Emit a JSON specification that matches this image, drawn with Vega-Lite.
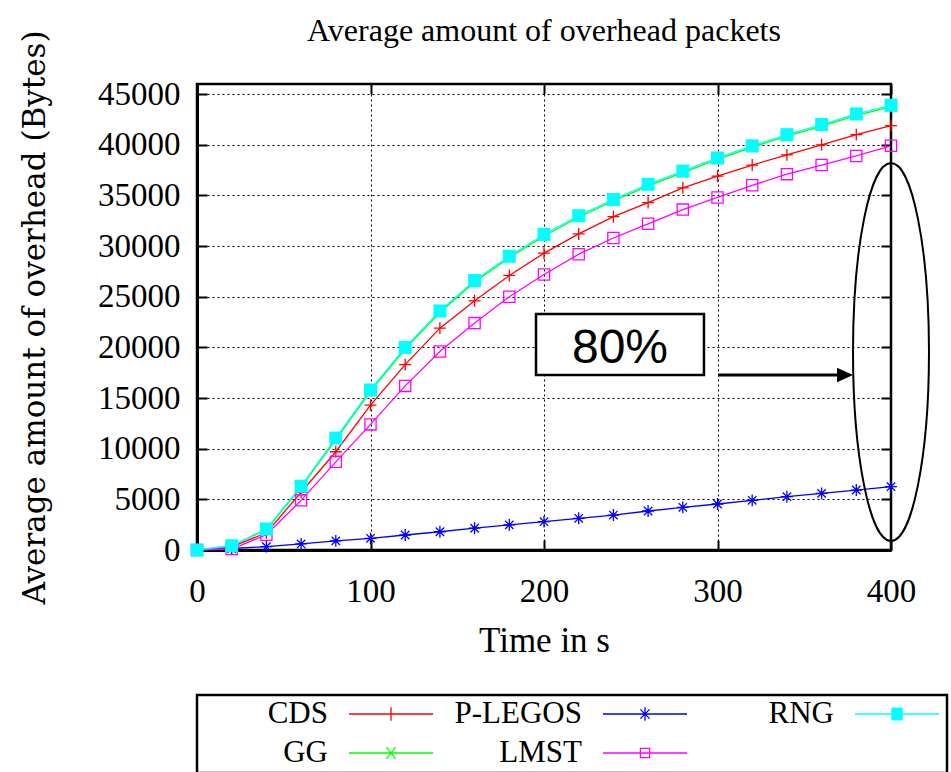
{
  "$schema": "https://vega.github.io/schema/vega-lite/v6.json",
  "autosize": "none",
  "width": 694,
  "height": 466,
  "padding": {"left": 197, "top": 84, "right": 60, "bottom": 222},
  "background": "white",
  "title": {"text": "Average amount of overhead packets", "font": "Liberation Serif", "fontSize": 32, "fontWeight": "normal", "color": "black", "anchor": "middle", "frame": "group", "baseline": "bottom", "offset": -50},
  "config": {
    "font": "Liberation Serif",
    "view": {"stroke": "black", "strokeWidth": 2.5}
  },
  "datasets": {
    "series": [
      {"series": "CDS", "t": 0, "v": 0}, {"series": "CDS", "t": 20, "v": 300}, {"series": "CDS", "t": 40, "v": 1700}, {"series": "CDS", "t": 60, "v": 5700}, {"series": "CDS", "t": 80, "v": 9700}, {"series": "CDS", "t": 100, "v": 14300}, {"series": "CDS", "t": 120, "v": 18300}, {"series": "CDS", "t": 140, "v": 21900}, {"series": "CDS", "t": 160, "v": 24600}, {"series": "CDS", "t": 180, "v": 27100}, {"series": "CDS", "t": 200, "v": 29300}, {"series": "CDS", "t": 220, "v": 31200}, {"series": "CDS", "t": 240, "v": 32900}, {"series": "CDS", "t": 260, "v": 34300}, {"series": "CDS", "t": 280, "v": 35750}, {"series": "CDS", "t": 300, "v": 36900}, {"series": "CDS", "t": 320, "v": 38000}, {"series": "CDS", "t": 340, "v": 39000}, {"series": "CDS", "t": 360, "v": 40000}, {"series": "CDS", "t": 380, "v": 41000}, {"series": "CDS", "t": 400, "v": 41900},
      {"series": "GG", "t": 0, "v": 0}, {"series": "GG", "t": 20, "v": 400}, {"series": "GG", "t": 40, "v": 2000}, {"series": "GG", "t": 60, "v": 6200}, {"series": "GG", "t": 80, "v": 10900}, {"series": "GG", "t": 100, "v": 15650}, {"series": "GG", "t": 120, "v": 19850}, {"series": "GG", "t": 140, "v": 23450}, {"series": "GG", "t": 160, "v": 26450}, {"series": "GG", "t": 180, "v": 28850}, {"series": "GG", "t": 200, "v": 31000}, {"series": "GG", "t": 220, "v": 32850}, {"series": "GG", "t": 240, "v": 34450}, {"series": "GG", "t": 260, "v": 35950}, {"series": "GG", "t": 280, "v": 37250}, {"series": "GG", "t": 300, "v": 38550}, {"series": "GG", "t": 320, "v": 39750}, {"series": "GG", "t": 340, "v": 40850}, {"series": "GG", "t": 360, "v": 41850}, {"series": "GG", "t": 380, "v": 42900}, {"series": "GG", "t": 400, "v": 43750},
      {"series": "P-LEGOS", "t": 0, "v": 0}, {"series": "P-LEGOS", "t": 20, "v": 150}, {"series": "P-LEGOS", "t": 40, "v": 330}, {"series": "P-LEGOS", "t": 60, "v": 600}, {"series": "P-LEGOS", "t": 80, "v": 900}, {"series": "P-LEGOS", "t": 100, "v": 1150}, {"series": "P-LEGOS", "t": 120, "v": 1480}, {"series": "P-LEGOS", "t": 140, "v": 1800}, {"series": "P-LEGOS", "t": 160, "v": 2150}, {"series": "P-LEGOS", "t": 180, "v": 2480}, {"series": "P-LEGOS", "t": 200, "v": 2800}, {"series": "P-LEGOS", "t": 220, "v": 3130}, {"series": "P-LEGOS", "t": 240, "v": 3450}, {"series": "P-LEGOS", "t": 260, "v": 3850}, {"series": "P-LEGOS", "t": 280, "v": 4210}, {"series": "P-LEGOS", "t": 300, "v": 4540}, {"series": "P-LEGOS", "t": 320, "v": 4900}, {"series": "P-LEGOS", "t": 340, "v": 5260}, {"series": "P-LEGOS", "t": 360, "v": 5590}, {"series": "P-LEGOS", "t": 380, "v": 5920}, {"series": "P-LEGOS", "t": 400, "v": 6250},
      {"series": "LMST", "t": 0, "v": 0}, {"series": "LMST", "t": 20, "v": 100}, {"series": "LMST", "t": 40, "v": 1500}, {"series": "LMST", "t": 60, "v": 4900}, {"series": "LMST", "t": 80, "v": 8700}, {"series": "LMST", "t": 100, "v": 12400}, {"series": "LMST", "t": 120, "v": 16200}, {"series": "LMST", "t": 140, "v": 19600}, {"series": "LMST", "t": 160, "v": 22400}, {"series": "LMST", "t": 180, "v": 25000}, {"series": "LMST", "t": 200, "v": 27200}, {"series": "LMST", "t": 220, "v": 29200}, {"series": "LMST", "t": 240, "v": 30800}, {"series": "LMST", "t": 260, "v": 32200}, {"series": "LMST", "t": 280, "v": 33600}, {"series": "LMST", "t": 300, "v": 34800}, {"series": "LMST", "t": 320, "v": 36000}, {"series": "LMST", "t": 340, "v": 37100}, {"series": "LMST", "t": 360, "v": 38000}, {"series": "LMST", "t": 380, "v": 38900}, {"series": "LMST", "t": 400, "v": 39900},
      {"series": "RNG", "t": 0, "v": 0}, {"series": "RNG", "t": 20, "v": 420}, {"series": "RNG", "t": 40, "v": 2070}, {"series": "RNG", "t": 60, "v": 6300}, {"series": "RNG", "t": 80, "v": 11050}, {"series": "RNG", "t": 100, "v": 15800}, {"series": "RNG", "t": 120, "v": 20000}, {"series": "RNG", "t": 140, "v": 23600}, {"series": "RNG", "t": 160, "v": 26600}, {"series": "RNG", "t": 180, "v": 29000}, {"series": "RNG", "t": 200, "v": 31150}, {"series": "RNG", "t": 220, "v": 33000}, {"series": "RNG", "t": 240, "v": 34600}, {"series": "RNG", "t": 260, "v": 36100}, {"series": "RNG", "t": 280, "v": 37400}, {"series": "RNG", "t": 300, "v": 38700}, {"series": "RNG", "t": 320, "v": 39900}, {"series": "RNG", "t": 340, "v": 41000}, {"series": "RNG", "t": 360, "v": 42000}, {"series": "RNG", "t": 380, "v": 43050}, {"series": "RNG", "t": 400, "v": 43900}
    ],
    "box": [{"x1": 195.4, "x2": 292.2, "y1": 17280, "y2": 23300}],
    "label": [{"t": 243.8, "v": 19850, "text": "80%"}],
    "arrow": [{"x1": 300.3, "x2": 370, "y": 17280}],
    "head": [{"t": 373.5, "v": 17280}],
    "ellipse": [{"t": 400, "v": 19546}]
  },
  "resolve": {"axis": {"x": "independent", "y": "independent"}},
  "layer": [
    {
      "data": {"name": "series"},
      "mark": {"type": "line", "strokeWidth": 1.3, "clip": false},
      "encoding": {
        "x": {"field": "t", "type": "quantitative", "scale": {"domain": [0, 400], "nice": false},
          "axis": {"orient": "bottom", "values": [0, 100, 200, 300, 400], "title": "Time in s", "grid": true, "gridColor": "black", "gridDash": [2, 3], "gridWidth": 1, "gridOpacity": 1,
            "tickSize": -10, "tickWidth": 2, "tickColor": "black", "domain": true, "domainColor": "black", "domainWidth": 3,
            "labelFont": "Liberation Serif", "labelFontSize": 33, "labelColor": "black", "labelPadding": 35, "labelFlush": false,
            "titleFont": "Liberation Serif", "titleFontSize": 35, "titleFontWeight": "normal", "titleColor": "black", "titlePadding": 15}},
        "y": {"field": "v", "type": "quantitative", "scale": {"domain": [0, 46000], "nice": false},
          "axis": {"orient": "left", "values": [0, 5000, 10000, 15000, 20000, 25000, 30000, 35000, 40000, 45000], "format": "d", "title": "Average amount of overhead (Bytes)", "grid": true, "gridColor": "black", "gridDash": [2, 3], "gridWidth": 1, "gridOpacity": 1,
            "tickSize": -10, "tickWidth": 2, "tickColor": "black", "domain": true, "domainColor": "black", "domainWidth": 3,
            "labelFont": "Liberation Serif", "labelFontSize": 33, "labelColor": "black", "labelPadding": 27, "labelFlush": false,
            "titleFont": "DejaVu Serif", "titleFontSize": 31, "titleFontWeight": "normal", "titleColor": "black", "titlePadding": 46}},
        "color": {"field": "series", "type": "nominal",
          "scale": {"domain": ["CDS", "GG", "P-LEGOS", "LMST", "RNG"], "range": ["#ff0000", "#00ff00", "#0000ff", "#ff00ff", "#00ffff"]},
          "legend": {
            "orient": "none", "legendX": 0, "legendY": 611, "direction": "horizontal", "columns": 3, "title": null,
            "values": ["CDS", "P-LEGOS", "RNG", "GG", "LMST"],
            "padding": 5, "columnPadding": 18, "rowPadding": 8, "strokeColor": "black",
            "labelFont": "Liberation Serif", "labelFontSize": 31, "labelColor": "black", "labelLimit": 0,
            "symbolSize": 7056,
            "encode": {
              "legend": {"update": {"strokeWidth": {"value": 2.5}}},
              "symbols": {"update": {
                "x": {"value": 189}, "y": {"value": 14}, "size": {"value": 7056},
                "shape": {"signal": "datum.value === 'CDS' ? 'M-1,0L1,0M0,-0.16L0,0.16' : datum.value === 'GG' ? 'M-1,0L1,0M-0.11,-0.14L0.11,0.14M-0.11,0.14L0.11,-0.14' : datum.value === 'P-LEGOS' ? 'M-1,0L1,0M0,-0.16L0,0.16M-0.11,-0.11L0.11,0.11M-0.11,0.11L0.11,-0.11' : datum.value === 'LMST' ? 'M-1,0L1,0M-0.11,-0.11L0.11,-0.11L0.11,0.11L-0.11,0.11Z' : 'M-1,0L1,0M-0.12,-0.14L0.12,-0.14L0.12,0.14L-0.12,0.14Z'"},
                "stroke": {"scale": "color", "field": "value"},
                "fill": {"signal": "datum.value === 'RNG' ? '#00ffff' : 'transparent'"},
                "strokeWidth": {"value": 1.3}, "opacity": {"value": 1}, "fillOpacity": {"value": 1}, "strokeOpacity": {"value": 1}}},
              "labels": {"update": {"x": {"value": 126}, "y": {"value": 14}, "align": {"value": "right"}, "baseline": {"value": "middle"}}}
            }
          }}
      }
    },
    {
      "data": {"name": "series"},
      "transform": [{"filter": "datum.series === 'CDS'"}],
      "mark": {"type": "point", "shape": "M-0.85,0L0.85,0M0,-0.85L0,0.85", "size": 196, "strokeWidth": 1.3, "opacity": 1, "filled": false, "color": "#ff0000", "clip": false},
      "encoding": {
        "x": {"field": "t", "type": "quantitative",
          "axis": {"orient": "top", "values": [0, 100, 200, 300, 400], "title": null, "labels": false, "grid": false, "domain": false, "tickSize": -10, "tickWidth": 2, "tickColor": "black"}},
        "y": {"field": "v", "type": "quantitative",
          "axis": {"orient": "right", "values": [0, 5000, 10000, 15000, 20000, 25000, 30000, 35000, 40000, 45000], "title": null, "labels": false, "grid": false, "domain": false, "tickSize": -10, "tickWidth": 2, "tickColor": "black"}}
      }
    },
    {
      "data": {"name": "series"},
      "transform": [{"filter": "datum.series === 'GG'"}],
      "mark": {"type": "point", "shape": "M-0.7,-0.7L0.7,0.7M-0.7,0.7L0.7,-0.7", "size": 196, "strokeWidth": 1.3, "opacity": 1, "filled": false, "color": "#00ff00", "clip": false},
      "encoding": {
        "x": {"field": "t", "type": "quantitative", "axis": null},
        "y": {"field": "v", "type": "quantitative", "axis": null}
      }
    },
    {
      "data": {"name": "series"},
      "transform": [{"filter": "datum.series === 'P-LEGOS'"}],
      "mark": {"type": "point", "shape": "M-0.85,0L0.85,0M0,-0.85L0,0.85M-0.6,-0.6L0.6,0.6M-0.6,0.6L0.6,-0.6", "size": 196, "strokeWidth": 1.3, "opacity": 1, "filled": false, "color": "#0000ff", "clip": false},
      "encoding": {
        "x": {"field": "t", "type": "quantitative", "axis": null},
        "y": {"field": "v", "type": "quantitative", "axis": null}
      }
    },
    {
      "data": {"name": "series"},
      "transform": [{"filter": "datum.series === 'LMST'"}],
      "mark": {"type": "point", "shape": "M-0.8,-0.8L0.8,-0.8L0.8,0.8L-0.8,0.8Z", "size": 196, "strokeWidth": 1.3, "opacity": 1, "filled": false, "color": "#ff00ff", "clip": false},
      "encoding": {
        "x": {"field": "t", "type": "quantitative", "axis": null},
        "y": {"field": "v", "type": "quantitative", "axis": null}
      }
    },
    {
      "data": {"name": "series"},
      "transform": [{"filter": "datum.series === 'RNG'"}],
      "mark": {"type": "point", "shape": "M-1,-1L1,-1L1,1L-1,1Z", "size": 169, "strokeWidth": 1, "opacity": 1, "filled": true, "color": "#00ffff", "clip": false},
      "encoding": {
        "x": {"field": "t", "type": "quantitative", "axis": null},
        "y": {"field": "v", "type": "quantitative", "axis": null}
      }
    },
    {
      "data": {"name": "box"},
      "mark": {"type": "rect", "fill": "white", "stroke": "black", "strokeWidth": 2.5},
      "encoding": {
        "x": {"field": "x1", "type": "quantitative", "axis": null}, "x2": {"field": "x2"},
        "y": {"field": "y1", "type": "quantitative", "axis": null}, "y2": {"field": "y2"}
      }
    },
    {
      "data": {"name": "label"},
      "mark": {"type": "text", "font": "Liberation Sans", "fontSize": 48, "color": "black", "align": "center", "baseline": "middle"},
      "encoding": {
        "x": {"field": "t", "type": "quantitative", "axis": null},
        "y": {"field": "v", "type": "quantitative", "axis": null},
        "text": {"field": "text"}
      }
    },
    {
      "data": {"name": "arrow"},
      "mark": {"type": "rule", "color": "black", "strokeWidth": 3},
      "encoding": {
        "x": {"field": "x1", "type": "quantitative", "axis": null}, "x2": {"field": "x2"},
        "y": {"field": "y", "type": "quantitative", "axis": null}
      }
    },
    {
      "data": {"name": "head"},
      "mark": {"type": "point", "shape": "M-1,-0.9L1,0L-1,0.9Z", "size": 256, "filled": true, "color": "black", "opacity": 1},
      "encoding": {
        "x": {"field": "t", "type": "quantitative", "axis": null},
        "y": {"field": "v", "type": "quantitative", "axis": null}
      }
    },
    {
      "data": {"name": "ellipse"},
      "mark": {"type": "point", "shape": "M0,-1C0.111,-1 0.201,-0.5523 0.201,0C0.201,0.5523 0.111,1 0,1C-0.111,1 -0.201,0.5523 -0.201,0C-0.201,-0.5523 -0.111,-1 0,-1Z", "size": 142884, "filled": false, "stroke": "black", "strokeWidth": 2, "opacity": 1, "clip": false},
      "encoding": {
        "x": {"field": "t", "type": "quantitative", "axis": null},
        "y": {"field": "v", "type": "quantitative", "axis": null}
      }
    }
  ]
}
